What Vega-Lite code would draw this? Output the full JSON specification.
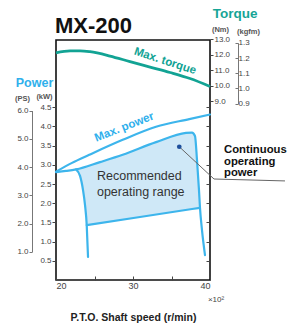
{
  "$schema": "https://vega.github.io/schema/vega-lite/v6.json",
  "width": 154,
  "height": 240,
  "autosize": {"type": "none"},
  "padding": {"left": 56, "top": 40, "right": 89, "bottom": 47},
  "background": "white",
  "config": {
    "view": {"stroke": "#111", "strokeWidth": 1.6},
    "font": "Liberation Sans",
    "axis": {"labelFont": "Liberation Sans", "labelFontSize": 8, "labelColor": "#444", "tickColor": "#444", "grid": false, "domainColor": "#222", "titleFont": "Liberation Sans"},
    "text": {"font": "Liberation Sans"}
  },
  "datasets": {
    "lines": [
      {"series": "outer", "i": 0, "s": 20.0, "kW": 2.82},
      {"series": "outer", "i": 1, "s": 22.08, "kW": 3.05},
      {"series": "outer", "i": 2, "s": 24.32, "kW": 3.26},
      {"series": "outer", "i": 3, "s": 28.66, "kW": 3.65},
      {"series": "outer", "i": 4, "s": 32.99, "kW": 3.99},
      {"series": "outer", "i": 5, "s": 37.31, "kW": 4.19},
      {"series": "outer", "i": 6, "s": 40.0, "kW": 4.31},
      {"series": "inner", "i": 0, "s": 20.0, "kW": 2.81},
      {"series": "inner", "i": 1, "s": 21.3, "kW": 2.84},
      {"series": "inner", "i": 2, "s": 22.6, "kW": 2.88},
      {"series": "inner", "i": 3, "s": 25.71, "kW": 3.07},
      {"series": "inner", "i": 4, "s": 28.66, "kW": 3.26},
      {"series": "inner", "i": 5, "s": 32.99, "kW": 3.59},
      {"series": "inner", "i": 6, "s": 36.88, "kW": 3.83},
      {"series": "inner", "i": 7, "s": 37.66, "kW": 3.84},
      {"series": "inner", "i": 8, "s": 38.05, "kW": 3.75},
      {"series": "inner", "i": 9, "s": 38.31, "kW": 3.13},
      {"series": "inner", "i": 10, "s": 38.57, "kW": 2.34},
      {"series": "inner", "i": 11, "s": 38.7, "kW": 1.88},
      {"series": "inner", "i": 12, "s": 38.96, "kW": 1.3},
      {"series": "inner", "i": 13, "s": 39.35, "kW": 0.65},
      {"series": "left", "i": 0, "s": 22.6, "kW": 2.88},
      {"series": "left", "i": 1, "s": 23.12, "kW": 2.71},
      {"series": "left", "i": 2, "s": 23.51, "kW": 2.34},
      {"series": "left", "i": 3, "s": 23.77, "kW": 1.95},
      {"series": "left", "i": 4, "s": 23.99, "kW": 1.43},
      {"series": "left", "i": 5, "s": 24.16, "kW": 0.6},
      {"series": "bottom", "i": 0, "s": 23.99, "kW": 1.43},
      {"series": "bottom", "i": 1, "s": 30.91, "kW": 1.64},
      {"series": "bottom", "i": 2, "s": 38.7, "kW": 1.88},
      {"series": "leader", "i": 0, "s": 36.01, "kW": 3.47},
      {"series": "leader", "i": 1, "s": 40.52, "kW": 2.63},
      {"series": "leader", "i": 2, "s": 49.74, "kW": 2.58}
    ],
    "region": [
      {"s": 22.6, "top": 2.88, "bottom": 2.88},
      {"s": 23.12, "top": 2.91, "bottom": 2.71},
      {"s": 23.51, "top": 2.94, "bottom": 2.34},
      {"s": 23.77, "top": 2.95, "bottom": 1.95},
      {"s": 23.99, "top": 2.96, "bottom": 1.43},
      {"s": 25.71, "top": 3.07, "bottom": 1.48},
      {"s": 28.66, "top": 3.26, "bottom": 1.57},
      {"s": 30.91, "top": 3.43, "bottom": 1.64},
      {"s": 32.99, "top": 3.59, "bottom": 1.7},
      {"s": 36.88, "top": 3.83, "bottom": 1.82},
      {"s": 37.66, "top": 3.84, "bottom": 1.85},
      {"s": 38.05, "top": 3.75, "bottom": 1.86},
      {"s": 38.31, "top": 3.13, "bottom": 1.87},
      {"s": 38.57, "top": 2.34, "bottom": 1.87},
      {"s": 38.7, "top": 1.88, "bottom": 1.88}
    ],
    "torque": [
      {"s": 20.0, "Nm": 12.11},
      {"s": 21.82, "Nm": 12.23},
      {"s": 23.12, "Nm": 12.24},
      {"s": 24.42, "Nm": 12.18},
      {"s": 27.01, "Nm": 11.9},
      {"s": 29.61, "Nm": 11.54},
      {"s": 32.21, "Nm": 11.19},
      {"s": 34.81, "Nm": 10.84},
      {"s": 37.4, "Nm": 10.45},
      {"s": 40.0, "Nm": 9.94}
    ],
    "notes": [
      {"key": "title", "text": "MX-200", "s": 19.87, "y": 6.44},
      {"key": "power", "text": "Power", "s": 17.21, "y": 5.026},
      {"key": "torque", "text": "Torque", "s": 43.25, "y": 6.823},
      {"key": "maxpower", "text": "Max. power", "s": 28.88, "y": 3.97},
      {"key": "maxtorque", "text": "Max. torque", "s": 34.16, "y": 11.55},
      {"key": "range", "text": "Recommended\noperating range", "s": 25.32, "y": 2.71},
      {"key": "cont", "text": "Continuous\noperating\npower", "s": 41.82, "y": 3.385},
      {"key": "x10", "text": "×10²", "s": 40.78, "y": -0.52},
      {"key": "dot", "text": "", "s": 36.01, "y": 3.47}
    ]
  },
  "encoding": {
    "x": {
      "field": "s", "type": "quantitative",
      "scale": {"domain": [20, 40], "nice": false, "zero": false},
      "axis": {
        "values": [20, 25, 30, 35, 40],
        "labelExpr": "datum.value % 10 === 0 ? datum.label : ''",
        "tickSize": -4, "labelPadding": 5, "domain": false, "labelFontSize": 9,
        "title": "P.T.O. Shaft speed  (r/min)", "titleFontSize": 10.5, "titleFontWeight": "bold",
        "titleColor": "#222", "titleY": 37, "titleBaseline": "middle"
      }
    }
  },
  "layer": [
    {
      "data": {"name": "region"},
      "mark": {"type": "area", "color": "#cfe8f7", "interpolate": "monotone"},
      "encoding": {
        "y": {
          "field": "top", "type": "quantitative",
          "scale": {"domain": [0, 6.25], "nice": false, "zero": false},
          "axis": {
            "orient": "left", "values": [0.5, 1, 1.5, 2, 2.5, 3, 3.5, 4, 4.5], "format": ".1f",
            "tickSize": 4, "labelPadding": 1, "domain": false,
            "title": "(kW)", "titleAngle": 0, "titleX": -12, "titleY": 56, "titleAlign": "center",
            "titleBaseline": "middle", "titleFontSize": 7.5, "titleFontWeight": "bold", "titleColor": "#555"
          }
        },
        "y2": {"field": "bottom"}
      }
    },
    {
      "data": {"name": "lines"},
      "transform": [{"filter": "datum.series !== 'leader'"}],
      "mark": {"type": "line", "color": "#3db5ec", "strokeWidth": 2.2, "strokeJoin": "round", "strokeCap": "round", "interpolate": "monotone"},
      "encoding": {
        "y": {
          "field": "kW", "type": "quantitative",
          "scale": {"domain": [0, 6.25], "nice": false, "zero": false},
          "axis": {"orient": "right", "values": [0.5, 1, 1.5, 2, 2.5, 3, 3.5, 4, 4.5], "labels": false, "tickSize": -4, "domain": false, "title": null}
        },
        "detail": {"field": "series"},
        "order": {"field": "i"}
      }
    },
    {
      "data": {"name": "lines"},
      "transform": [{"filter": "datum.series === 'leader'"}],
      "mark": {"type": "line", "color": "#666", "strokeWidth": 1},
      "encoding": {
        "y": {"field": "kW", "type": "quantitative", "scale": {"domain": [0, 6.25], "nice": false, "zero": false}, "axis": null},
        "order": {"field": "i"}
      }
    },
    {
      "data": {"name": "torque"},
      "mark": {"type": "line", "color": "#12a394", "strokeWidth": 2.8, "interpolate": "monotone"},
      "encoding": {
        "y": {
          "field": "Nm", "type": "quantitative",
          "scale": {"domain": [9, 13], "range": [61, -1], "nice": false, "zero": false},
          "axis": {
            "orient": "right", "values": [9, 10, 11, 12, 13], "format": ".1f", "tickSize": 3, "labelPadding": 1, "domain": false,
            "title": "(Nm)", "titleAngle": 0, "titleX": 10, "titleY": -11, "titleAlign": "center", "titleBaseline": "middle",
            "titleFontSize": 7.5, "titleFontWeight": "bold", "titleColor": "#555"
          }
        }
      }
    },
    {
      "data": {"name": "notes"},
      "transform": [{"filter": "datum.key === 'dot'"}],
      "mark": {"type": "point", "filled": true, "color": "#1d4f9c", "size": 22, "opacity": 1},
      "encoding": {"y": {"field": "y", "type": "quantitative", "scale": {"domain": [0, 6.25], "nice": false, "zero": false}, "axis": null}}
    },
    {
      "data": {"name": "notes"},
      "transform": [{"filter": "datum.key === 'title'"}],
      "mark": {"type": "text", "fontSize": 22, "fontWeight": "bold", "color": "#111", "align": "left", "baseline": "alphabetic"},
      "encoding": {"y": {"field": "y", "type": "quantitative", "scale": {"domain": [0, 6.25], "nice": false, "zero": false}, "axis": null}, "text": {"field": "text"}}
    },
    {
      "data": {"name": "notes"},
      "transform": [{"filter": "datum.key === 'power'"}],
      "mark": {"type": "text", "fontSize": 12.5, "fontWeight": "bold", "color": "#2fb0ec", "align": "center", "baseline": "alphabetic"},
      "encoding": {"y": {"field": "y", "type": "quantitative", "scale": {"domain": [0, 6.25], "nice": false, "zero": false}, "axis": null}, "text": {"field": "text"}}
    },
    {
      "data": {"name": "notes"},
      "transform": [{"filter": "datum.key === 'torque'"}],
      "mark": {"type": "text", "fontSize": 13.5, "fontWeight": "bold", "color": "#16a596", "align": "center", "baseline": "alphabetic"},
      "encoding": {"y": {"field": "y", "type": "quantitative", "scale": {"domain": [0, 6.25], "nice": false, "zero": false}, "axis": null}, "text": {"field": "text"}}
    },
    {
      "data": {"name": "notes"},
      "transform": [{"filter": "datum.key === 'maxpower'"}],
      "mark": {"type": "text", "fontSize": 11.5, "fontWeight": "bold", "color": "#2fb0ec", "align": "center", "baseline": "middle", "angle": 338.5},
      "encoding": {"y": {"field": "y", "type": "quantitative", "scale": {"domain": [0, 6.25], "nice": false, "zero": false}, "axis": null}, "text": {"field": "text"}}
    },
    {
      "data": {"name": "notes"},
      "transform": [{"filter": "datum.key === 'maxtorque'"}],
      "mark": {"type": "text", "fontSize": 11.5, "fontWeight": "bold", "color": "#12a394", "align": "center", "baseline": "middle", "angle": 18},
      "encoding": {"y": {"field": "y", "type": "quantitative", "scale": {"domain": [9, 13], "range": [61, -1], "nice": false, "zero": false}, "axis": null}, "text": {"field": "text"}}
    },
    {
      "data": {"name": "notes"},
      "transform": [{"filter": "datum.key === 'range'"}],
      "mark": {"type": "text", "fontSize": 12.5, "color": "#333", "align": "left", "baseline": "middle", "lineBreak": "\n", "lineHeight": 16},
      "encoding": {"y": {"field": "y", "type": "quantitative", "scale": {"domain": [0, 6.25], "nice": false, "zero": false}, "axis": null}, "text": {"field": "text"}}
    },
    {
      "data": {"name": "notes"},
      "transform": [{"filter": "datum.key === 'cont'"}],
      "mark": {"type": "text", "fontSize": 11.3, "fontWeight": "bold", "color": "#111", "align": "left", "baseline": "middle", "lineBreak": "\n", "lineHeight": 11.5},
      "encoding": {"y": {"field": "y", "type": "quantitative", "scale": {"domain": [0, 6.25], "nice": false, "zero": false}, "axis": null}, "text": {"field": "text"}}
    },
    {
      "data": {"name": "notes"},
      "transform": [{"filter": "datum.key === 'x10'"}],
      "mark": {"type": "text", "fontSize": 8, "color": "#444", "align": "center", "baseline": "middle"},
      "encoding": {"y": {"field": "y", "type": "quantitative", "scale": {"domain": [0, 6.25], "nice": false, "zero": false}, "axis": null}, "text": {"field": "text"}}
    },
    {
      "data": {"name": "lines"},
      "transform": [{"filter": "datum.series === 'outer'"}],
      "mark": {"type": "point", "opacity": 0},
      "encoding": {
        "y": {
          "field": "kW", "type": "quantitative",
          "scale": {"domain": [0.7355, 4.413], "range": [211.76, 70.54], "nice": false, "zero": false},
          "axis": {
            "orient": "left", "offset": 24, "values": [0.7355, 1.471, 2.2065, 2.942, 3.6775, 4.413],
            "labelExpr": "format(datum.value/0.7355, '.1f')", "tickSize": 3, "labelPadding": 1,
            "domain": true, "domainColor": "#777", "tickColor": "#777",
            "title": "(PS)", "titleAngle": 0, "titleX": -10, "titleY": 58, "titleAlign": "center", "titleBaseline": "middle",
            "titleFontSize": 7.5, "titleFontWeight": "bold", "titleColor": "#555"
          }
        }
      }
    },
    {
      "data": {"name": "torque"},
      "mark": {"type": "point", "opacity": 0},
      "encoding": {
        "y": {
          "field": "Nm", "type": "quantitative",
          "scale": {"domain": [8.826, 12.749], "range": [63.7, 2.89], "nice": false, "zero": false},
          "axis": {
            "orient": "right", "offset": 28, "values": [8.826, 9.807, 10.787, 11.768, 12.749],
            "labelExpr": "format(datum.value/9.80665, '.1f')", "tickSize": -3, "labelPadding": 3,
            "domain": true, "domainColor": "#777", "tickColor": "#777",
            "title": "(kgfm)", "titleAngle": 0, "titleX": 10, "titleY": -9, "titleAlign": "center", "titleBaseline": "middle",
            "titleFontSize": 7.5, "titleFontWeight": "bold", "titleColor": "#555"
          }
        }
      }
    }
  ],
  "resolve": {"scale": {"y": "independent"}, "axis": {"y": "independent"}}
}
